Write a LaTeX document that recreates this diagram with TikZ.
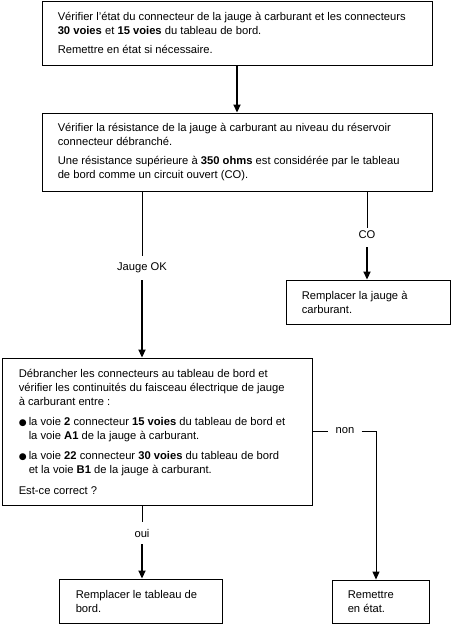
\documentclass[tikz,border=0pt]{standalone}
\usepackage{fontspec}
\setmainfont{Liberation Sans}
\newfontfamily\symfont{DejaVu Sans}
\usetikzlibrary{arrows.meta}
\newcommand{\bul}{\makebox[10pt][l]{\symfont\fontsize{9}{9}\selectfont ●}}
\newcommand{\ind}{\hspace*{10pt}}
\begin{document}
\begin{tikzpicture}[x=1pt,y=-1pt,
  box/.style={draw,line width=0.9pt,rectangle,inner sep=0pt},
  txt/.style={anchor=west,align=left,inner sep=0pt,
    font=\fontsize{11.2}{14}\selectfont},
  lbl/.style={inner sep=1pt,font=\fontsize{11.2}{12}\selectfont},
  thin/.style={line width=0.9pt},
  arr/.style={line width=1.8pt,-{Triangle[length=8pt,width=7pt]}},
  tarr/.style={line width=0.9pt,-{Triangle[length=8pt,width=7pt]}}]
\useasboundingbox (0,0) rectangle (455,642);
% boxes
\node[box,minimum width=390pt,minimum height=64pt] (b1) at (237,33) {};
\node[box,minimum width=390pt,minimum height=78pt] (b2) at (237,152) {};
\node[box,minimum width=164pt,minimum height=44pt] (b3) at (368,302) {};
\node[box,minimum width=310pt,minimum height=147pt] (b4) at (157,431.5) {};
\node[box,minimum width=163pt,minimum height=44pt] (b5) at (140.5,601) {};
\node[box,minimum width=97pt,minimum height=43pt] (b6) at (380.5,601.5) {};
% texts
\node[txt] (t1) at ([xshift=16pt]b1.west)
 {Vérifier l'état du connecteur de la jauge à carburant et les connecteurs\\
  \textbf{30 voies} et \textbf{15 voies} du tableau de bord.\\[5pt]
  Remettre en état si nécessaire.};
\node[txt] (t2) at ([xshift=16pt]b2.west)
 {Vérifier la résistance de la jauge à carburant au niveau du réservoir\\
  connecteur débranché.\\[5pt]
  Une résistance supérieure à \textbf{350 ohms} est considérée par le tableau\\
  de bord comme un circuit ouvert (CO).};
\node[txt] (t3) at ([xshift=16pt]b3.west)
 {Remplacer la jauge à\\carburant.};
\node[txt] (t4) at ([xshift=17pt]b4.west)
 {Débrancher les connecteurs au tableau de bord et\\
  vérifier les continuités du faisceau électrique de jauge\\
  à carburant entre :\\[6pt]
  \bul la voie \textbf{2} connecteur \textbf{15 voies} du tableau de bord et\\
  \ind la voie \textbf{A1} de la jauge à carburant.\\[6pt]
  \bul la voie \textbf{22} connecteur \textbf{30 voies} du tableau de bord\\
  \ind et la voie \textbf{B1} de la jauge à carburant.\\[7pt]
  Est-ce correct ?};
\node[txt] (t5) at ([xshift=17pt]b5.west)
 {Remplacer le tableau de\\bord.};
\node[txt] (t6) at ([xshift=16pt]b6.west)
 {Remettre\\en état.};
% labels
\node[lbl] (lJ) at (142,268) {Jauge OK};
\node[lbl] (lCO) at (367,235) {CO};
\node[lbl] (lnon) at (345,431) {non};
\node[lbl] (loui) at (142,533) {oui};
\coordinate (nc) at (376,431);
% connectors
\draw[arr] (b1.south) -- (b2.north);
\draw[thin] (lJ |- b2.south) -- ([yshift=6pt]lJ.north);
\draw[arr] ([yshift=-6pt]lJ.south) -- (lJ |- b4.north);
\draw[thin] (lCO |- b2.south) -- ([yshift=2pt]lCO.north);
\draw[arr] ([yshift=-7pt]lCO.south) -- (lCO |- b3.north);
\draw[thin] (b4.east |- lnon) -- ([xshift=-6pt]lnon.west);
\draw[thin] ([xshift=6pt]lnon.east) -- (nc);
\draw[tarr] (nc) -- (nc |- b6.north);
\draw[thin] (loui |- b4.south) -- ([yshift=6pt]loui.north);
\draw[arr] ([yshift=-6pt]loui.south) -- (loui |- b5.north);
\end{tikzpicture}
\end{document}
